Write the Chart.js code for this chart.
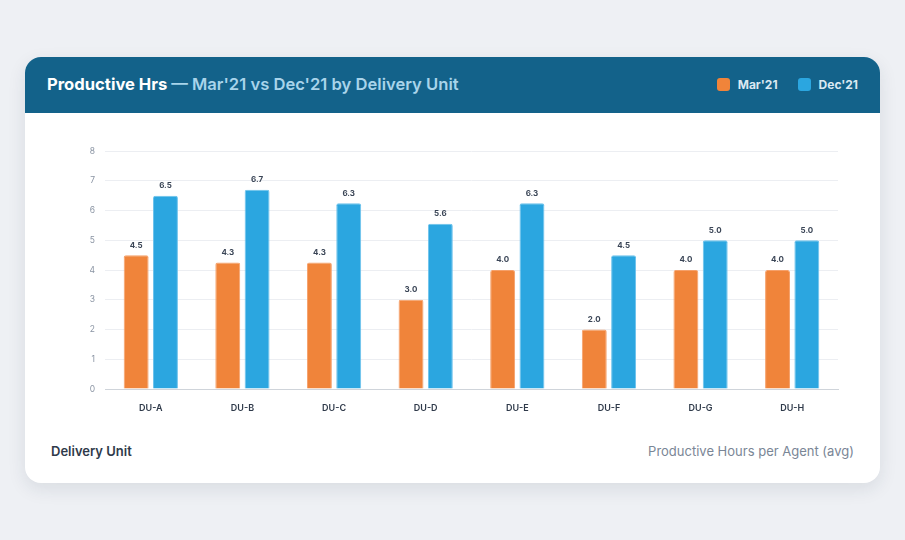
<!DOCTYPE html>
<html lang="en">
<head>
    <meta charset="UTF-8">
    <title>Productive Hrs</title>
    <script src="https://cdn.jsdelivr.net/npm/chart.js"></script>
    <style>
        html, body {
            margin: 0;
            padding: 0;
        }
        body {
            width: 905px;
            height: 540px;
            background: #eef0f4;
            font-family: Inter, "Open Sans", sans-serif;
            position: relative;
            overflow: hidden;
        }
        .card {
            position: absolute;
            left: 25px;
            top: 57px;
            width: 855px;
            height: 426px;
            background: #fff;
            border-radius: 16px;
            box-shadow: 0 6px 18px rgba(30, 45, 70, 0.10);
            overflow: hidden;
        }
        .header {
            height: 56px;
            background: #13628a;
            position: relative;
        }
        .title {
            position: absolute;
            left: 22px;
            top: 17px;
            font-size: 16.6px;
            font-weight: 700;
            color: #ffffff;
        }
        .title span {
            color: #a9d4ea;
            font-weight: 600;
        }
        .legend {
            position: absolute;
            right: 22px;
            top: 20px;
            display: flex;
            align-items: center;
            font-size: 12px;
            font-weight: 700;
            color: #dbe9f2;
        }
        .legend .item {
            display: flex;
            align-items: center;
            margin-left: 20px;
        }
        .legend .sw {
            width: 13px;
            height: 13px;
            border-radius: 3px;
            margin-right: 8px;
        }
        .chart-box {
            position: absolute;
            left: 45px;
            top: 79px;
            width: 780px;
            height: 294px;
        }
        .foot-left {
            position: absolute;
            left: 26px;
            top: 386px;
            font-size: 13px;
            font-weight: 600;
            color: #2f3a4a;
        }
        .foot-right {
            position: absolute;
            right: 26px;
            top: 386px;
            font-size: 13px;
            color: #7a8696;
        }
    </style>
</head>
<body>
    <div class="card">
        <div class="header">
            <div class="title">Productive Hrs <span>— Mar'21 vs Dec'21 by Delivery Unit</span></div>
            <div class="legend">
                <div class="item"><div class="sw" style="background:#f0843a"></div>Mar'21</div>
                <div class="item"><div class="sw" style="background:#2ba6e0"></div>Dec'21</div>
            </div>
        </div>
        <div class="chart-box">
            <canvas id="hrsChart"></canvas>
        </div>
        <div class="foot-left">Delivery Unit</div>
        <div class="foot-right">Productive Hours per Agent (avg)</div>
    </div>

    <script>
        const units = ['DU-A', 'DU-B', 'DU-C', 'DU-D', 'DU-E', 'DU-F', 'DU-G', 'DU-H'];
        const mar21 = [4.5, 4.25, 4.25, 3.0, 4.0, 2.0, 4.0, 4.0];
        const dec21 = [6.5, 6.7, 6.25, 5.56, 6.25, 4.5, 5.0, 5.0];
        const yTicks = [0, 1, 2, 3, 4, 5, 6, 7, 8];

        const fontFamily = 'Inter, "Open Sans", sans-serif';

        // draws the value above each bar
        const valueLabels = {
            id: 'valueLabels',
            afterDatasetsDraw(chart) {
                const ctx = chart.ctx;
                ctx.save();
                ctx.font = '700 8px ' + fontFamily;
                ctx.fillStyle = '#3a4556';
                ctx.textAlign = 'center';
                ctx.textBaseline = 'bottom';
                chart.data.datasets.forEach((ds, i) => {
                    chart.getDatasetMeta(i).data.forEach((bar, j) => {
                        ctx.fillText(ds.data[j].toFixed(1), bar.x, bar.y - 6);
                    });
                });
                ctx.restore();
            }
        };

        new Chart(document.getElementById('hrsChart'), {
            type: 'bar',
            data: {
                labels: units,
                datasets: [{
                    label: "Mar'21",
                    data: mar21,
                    backgroundColor: '#f0843a',
                    borderColor: '#f5a06a',
                    borderWidth: { top: 1, left: 1, right: 1, bottom: 0 },
                    borderRadius: { topLeft: 2, topRight: 2 },
                    borderSkipped: 'bottom',
                    categoryPercentage: 0.64,
                    barPercentage: 0.85
                }, {
                    label: "Dec'21",
                    data: dec21,
                    backgroundColor: '#2ba6e0',
                    borderColor: '#6cc2ec',
                    borderWidth: { top: 1, left: 1, right: 1, bottom: 0 },
                    borderRadius: { topLeft: 2, topRight: 2 },
                    borderSkipped: 'bottom',
                    categoryPercentage: 0.64,
                    barPercentage: 0.85
                }]
            },
            options: {
                responsive: true,
                maintainAspectRatio: false,
                animation: false,
                layout: { padding: { top: 8, right: 12, left: 0, bottom: 0 } },
                plugins: {
                    legend: { display: false },
                    tooltip: { enabled: false }
                },
                scales: {
                    x: {
                        grid: { display: false },
                        border: { color: '#cfd4da' },
                        ticks: {
                            color: '#2f3a4a',
                            font: { family: fontFamily, size: 9, weight: '600' },
                            padding: 6
                        },
                        afterFit(scale) { scale.height = 41; }
                    },
                    y: {
                        min: 0,
                        max: 8,
                        afterBuildTicks(scale) {
                            scale.ticks = yTicks.map(v => ({ value: v }));
                        },
                        grid: { color: '#eceef2', drawTicks: false },
                        border: { display: false },
                        ticks: {
                            color: '#8a94a3',
                            font: { family: fontFamily, size: 8.5 },
                            padding: 10
                        },
                        afterFit(scale) { scale.width = 35; }
                    }
                }
            },
            plugins: [valueLabels]
        });
    </script>
</body>
</html>
